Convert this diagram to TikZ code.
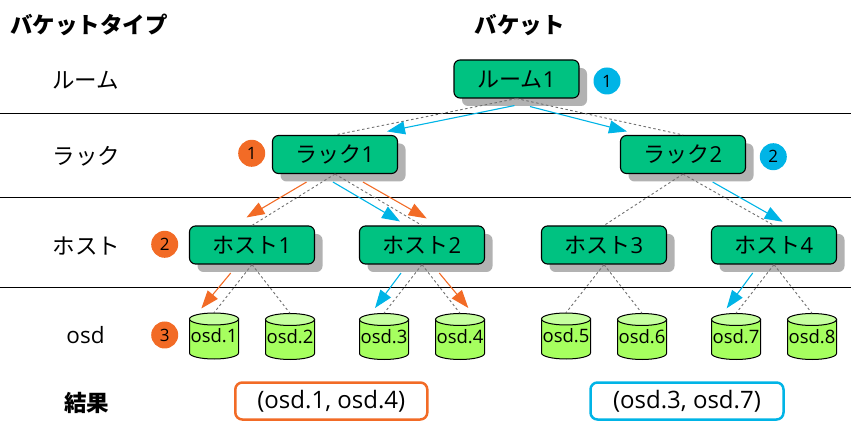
\documentclass[tikz,border=0pt]{standalone}
\usepackage{fontspec}
\setmainfont{Open Sans}
\newfontfamily\cjk{Noto Sans CJK JP}
\usetikzlibrary{shadows,arrows.meta}
\definecolor{boxgreen}{HTML}{00C281}
\definecolor{osdbody}{HTML}{A6FF5F}
\definecolor{osdtop}{HTML}{C6FFA0}
\definecolor{shadowgray}{HTML}{B2B2B2}
\definecolor{accentorange}{HTML}{F26B26}
\definecolor{accentblue}{HTML}{00B4E6}
\definecolor{linkgray}{HTML}{707070}
\tikzset{
  bucket/.style={draw=black,line width=1.1pt,rounded corners=6pt,fill=boxgreen,
    minimum width=125pt,minimum height=38pt,inner sep=0pt,
    font=\fontsize{22}{24}\selectfont,
    general shadow={shadow xshift=8pt,shadow yshift=-8pt,fill=shadowgray,draw=none}},
  osdlabel/.style={minimum width=49pt,minimum height=46pt,inner sep=0pt,
    font=\fontsize{18.5}{20}\selectfont},
  osdbodyline/.style={draw=black,line width=1pt,fill=osdbody},
  osdlid/.style={draw=black,line width=1pt,fill=osdtop},
  badge/.style={circle,minimum size=27pt,inner sep=0pt,text=black,
    font=\fontsize{17}{18}\selectfont},
  orangebadge/.style={badge,fill=accentorange},
  bluebadge/.style={badge,fill=accentblue},
  heading/.style={font=\fontsize{22.5}{24}\selectfont\bfseries},
  rowlabel/.style={font=\fontsize{22.5}{24}\selectfont},
  result/.style={draw=#1,line width=2.5pt,rounded corners=7pt,fill=white,
    minimum height=37pt,inner sep=0pt,font=\fontsize{24}{26}\selectfont},
  link/.style={draw=linkgray,line width=0.9pt,dash pattern=on 2.5pt off 2.5pt},
  pick/.style={draw=#1,line width=1.1pt,-{Triangle[length=18pt,width=13pt,fill=#1]}},
  rule/.style={draw=black,line width=1pt}
}
% name, x, y (centre), text
\newcommand{\osdcyl}[4]{%
  \path[osdbodyline] (#2-24.5,#3-17) -- (#2-24.5,#3+17)
    arc[start angle=180,end angle=0,x radius=24.5,y radius=6]
    -- (#2+24.5,#3-17) -- cycle;
  \path[osdlid] (#2,#3-17) ellipse[x radius=24.5,y radius=6];
  \node[osdlabel] (#1) at (#2,#3) {\raisebox{-4.5pt}{#4}};
}
\begin{document}
\begin{tikzpicture}[x=1pt,y=-1pt]
\useasboundingbox (0,0) rectangle (851,427);
% row rules
\draw[rule] (0,113.5) -- (851,113.5);
\draw[rule] (0,197.5) -- (851,197.5);
\draw[rule] (0,287.5) -- (851,287.5);
% headings and row labels
\node[heading] (hType) at (89,25) {\cjk バケットタイプ};
\node[heading] (hBucket) at (519.5,25) {\cjk バケット};
\node[rowlabel] (lRoom) at (85.5,80.5) {\cjk ルーム};
\node[rowlabel] (lRack) at (86.5,156) {\cjk ラック};
\node[rowlabel] (lHost) at (86.5,246) {\cjk ホスト};
\node[rowlabel] (lOsd) at (85.5,335) {osd};
\node[heading] (lResult) at (86.5,403) {\cjk 結果};
% buckets
\node[bucket] (room) at (516.5,79) {\cjk ルーム\normalfont 1};
\node[bucket] (rack1) at (335,154.5) {\cjk ラック\normalfont 1};
\node[bucket] (rack2) at (683,154.5) {\cjk ラック\normalfont 2};
\node[bucket] (host1) at (252,245) {\cjk ホスト\normalfont 1};
\node[bucket] (host2) at (422,245) {\cjk ホスト\normalfont 2};
\node[bucket] (host3) at (604,245) {\cjk ホスト\normalfont 3};
\node[bucket] (host4) at (774,245) {\cjk ホスト\normalfont 4};
% osds
\osdcyl{osd1}{214}{336}{osd.1}
\osdcyl{osd2}{290}{336.5}{osd.2}
\osdcyl{osd3}{384}{336.5}{osd.3}
\osdcyl{osd4}{460}{336.5}{osd.4}
\osdcyl{osd5}{566}{336}{osd.5}
\osdcyl{osd6}{642}{336.5}{osd.6}
\osdcyl{osd7}{736}{336.5}{osd.7}
\osdcyl{osd8}{812}{336.5}{osd.8}
% badges
\node[orangebadge] (o1) at (251.7,153.3) {1};
\node[orangebadge] (o2) at (164.7,244.3) {2};
\node[orangebadge] (o3) at (164.7,335) {3};
\node[bluebadge] (b1) at (607,81) {1};
\node[bluebadge] (b2) at (773.3,156.7) {2};
% results
\node[result=accentorange,minimum width=192pt] (resA) at (331.3,401) {(osd.1, osd.4)};
\node[result=accentblue,minimum width=193pt] (resB) at (687,401) {(osd.3, osd.7)};
% hierarchy links
\draw[link] (room.south) -- (rack1.north);
\draw[link] (room.south) -- (rack2.north);
\draw[link] (rack1.south) -- (host1.north);
\draw[link] (rack1.south) -- (host2.north);
\draw[link] (rack2.south) -- (host3.north);
\draw[link] (rack2.south) -- (host4.north);
\draw[link] (host1.south) -- (osd1.north);
\draw[link] (host1.south) -- (osd2.north);
\draw[link] (host2.south) -- (osd3.north);
\draw[link] (host2.south) -- (osd4.north);
\draw[link] (host3.south) -- (osd5.north);
\draw[link] (host3.south) -- (osd6.north);
\draw[link] (host4.south) -- (osd7.north);
\draw[link] (host4.south) -- (osd8.north);
% selection arrows
\draw[pick=accentblue] ([shift={(-2,7)}]room.south) -- ([shift={(52,-3.5)}]rack1.north);
\draw[pick=accentblue] ([shift={(13.5,8)}]room.south) -- ([shift={(-56,-3.5)}]rack2.north);
\draw[pick=accentorange] ([shift={(-28.5,8)}]rack1.south) -- ([shift={(-5.5,-8)}]host1.north);
\draw[pick=accentblue] ([shift={(-2,8)}]rack1.south) -- ([shift={(-22,-4)}]host2.north);
\draw[pick=accentorange] ([shift={(28,8)}]rack1.south) -- ([shift={(4.7,-7)}]host2.north);
\draw[pick=accentblue] ([shift={(29.7,8)}]rack2.south) -- ([shift={(8.7,-3.7)}]host4.north);
\draw[pick=accentorange] ([shift={(-21.3,8.5)}]host1.south) -- ([shift={(-12.7,-4.3)}]osd1.north);
\draw[pick=accentblue] ([shift={(-21,8.5)}]host2.south) -- ([shift={(-9,-5.3)}]osd3.north);
\draw[pick=accentorange] ([shift={(17.3,8.5)}]host2.south) -- ([shift={(8.3,-5.3)}]osd4.north);
\draw[pick=accentblue] ([shift={(-21.3,8.5)}]host4.south) -- ([shift={(-9.3,-5)}]osd7.north);
\end{tikzpicture}
\end{document}
